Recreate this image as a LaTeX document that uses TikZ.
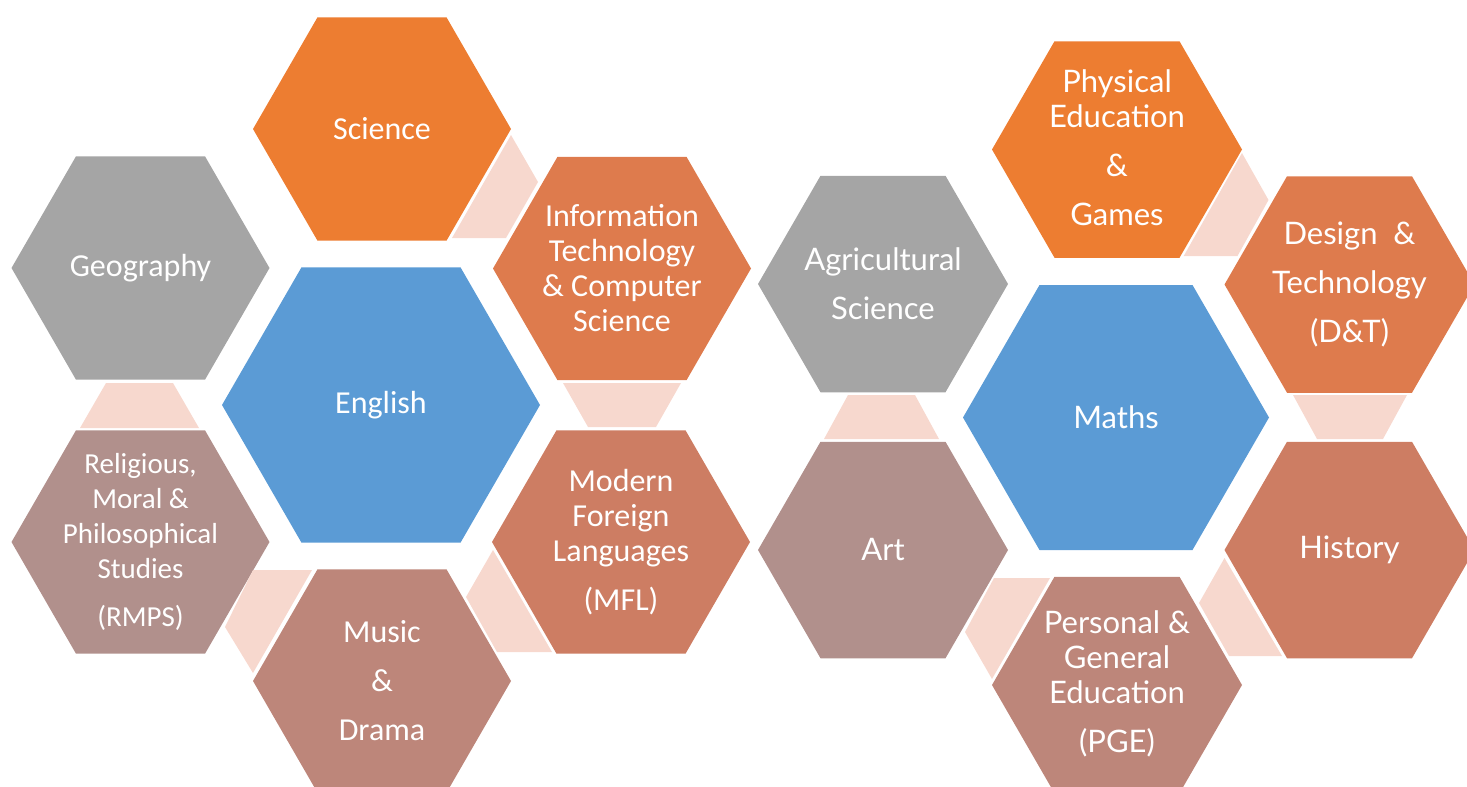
\documentclass[tikz,border=0pt]{standalone}
\usepackage{fontspec}
\newfontfamily\lft{Carlito}
\newfontfamily\rgt{Lato}
\definecolor{cOrange}{HTML}{ED7D31}
\definecolor{cGray}{HTML}{A5A5A5}
\definecolor{cBlue}{HTML}{5B9BD5}
\definecolor{cRust}{HTML}{DE7B4D}
\definecolor{cTerra}{HTML}{CD7D63}
\definecolor{cMauve}{HTML}{B1908C}
\definecolor{cRose}{HTML}{BD867A}
\definecolor{cLink}{HTML}{F7D8CE}
\newcommand{\hexshape}[4]{% cx, cy, r, colour
  \fill[#4] ({#1-#3},#2) -- ({#1-#3/2},{#2-0.8660*#3}) -- ({#1+#3/2},{#2-0.8660*#3})
    -- ({#1+#3},#2) -- ({#1+#3/2},{#2+0.8660*#3}) -- ({#1-#3/2},{#2+0.8660*#3}) -- cycle;}
\tikzset{
  ltxt/.style={text=white, align=center, inner sep=0pt, font=\lft\fontsize{32}{35}\selectfont},
  lsmall/.style={text=white, align=center, inner sep=0pt, font=\lft\fontsize{29}{35}\selectfont},
  rtxt/.style={text=white, align=center, inner sep=0pt, font=\rgt\fontsize{31}{35}\selectfont},
  link/.style={fill=cLink}
}
\begin{document}
\begin{tikzpicture}[x=1pt,y=-1pt]
\useasboundingbox (0,0) rectangle (1467,787);
% ---------- left cluster ----------
\hexshape{382}{129}{129}{cOrange}
\hexshape{140.5}{268}{129}{cGray}
\hexshape{622}{268.5}{129}{cRust}
\hexshape{381}{405}{159}{cBlue}
\hexshape{140.5}{542}{129}{cMauve}
\hexshape{621}{542}{129}{cTerra}
\hexshape{382}{681}{129}{cRose}
% connectors
\fill[link] (511,135) -- (538,182) -- (506,238) -- (452,238) -- cycle;
\fill[link] (106,383) -- (173,383) -- (199,428) -- (80,428) -- cycle;
\fill[link] (563,383) -- (681,383) -- (656,427) -- (588,427) -- cycle;
\fill[link] (253,570) -- (312,570) -- (253,673) -- (225,627) -- cycle;
\fill[link] (493,550) -- (466,597) -- (497,652) -- (552,652) -- cycle;
% labels
\node[ltxt] (science) at (382,129) {Science};
\node[ltxt] (geography) at (140.5,268) {Geography};
\node[ltxt] (it) at (622,268.5) {Information\\Technology\\\& Computer\\Science};
\node[ltxt] (english) at (381,405) {English};
\node[lsmall] (rmps) at (140.5,542) {Religious,\\Moral \&\\Philosophical\\Studies\\[13pt](RMPS)};
\node[ltxt] (mfl) at (621,542) {Modern\\Foreign\\Languages\\[14pt](MFL)};
\node[ltxt] (music) at (382,681) {Music\\[14pt]\&\\[14pt]Drama};
% ---------- right cluster ----------
\hexshape{1117}{149.5}{125}{cOrange}
\hexshape{883}{284}{125}{cGray}
\hexshape{1349.5}{284.5}{125}{cRust}
\hexshape{1116}{417.5}{153}{cBlue}
\hexshape{883}{550}{125}{cMauve}
\hexshape{1349.5}{550}{125}{cTerra}
\hexshape{1117}{685}{125}{cRose}
% connectors
\fill[link] (1242,153) -- (1268.5,200) -- (1237.5,256) -- (1183.7,256) -- cycle;
\fill[link] (848,395) -- (915,395) -- (939,439) -- (824,439) -- cycle;
\fill[link] (1293,395) -- (1407,395) -- (1383,439) -- (1317,439) -- cycle;
\fill[link] (994,578) -- (1050,578) -- (992,679) -- (965,632) -- cycle;
\fill[link] (1224.5,558) -- (1199,603) -- (1229,656) -- (1282,656) -- cycle;
% labels
\node[rtxt] (pe) at (1117,148) {Physical\\Education\\[14pt]\&\\[14pt]Games};
\node[rtxt] (agri) at (883,284) {Agricultural\\[14pt]Science};
\node[rtxt] (dt) at (1349.5,284) {Design\ \ \&\\[14pt]Technology\\[14pt](D\&T)};
\node[rtxt] (maths) at (1116,417.5) {Maths};
\node[rtxt] (art) at (883,550) {Art};
\node[rtxt] (history) at (1349.5,550) {History};
\node[rtxt] (pge) at (1117,684) {Personal \&\\General\\Education\\[14pt](PGE)};
\end{tikzpicture}
\end{document}
